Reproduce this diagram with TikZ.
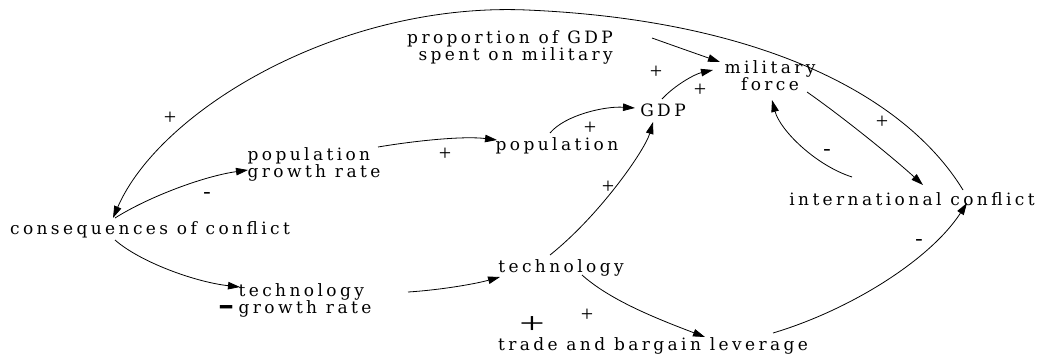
\documentclass[tikz,border=0pt]{standalone}
\usepackage{fontspec}
\setmainfont{Liberation Serif}
\newfontfamily\dfont[LetterSpace=20]{DejaVu Serif}
\usetikzlibrary{arrows.meta,calc}
\begin{document}
\begin{tikzpicture}[x=1pt,y=-1pt,
  lbl/.style={font=\dfont\fontsize{17}{17}\selectfont, inner sep=0pt},
  sgn/.style={font=\fontsize{22}{22}\selectfont, inner sep=0pt},
  link/.style={-{Triangle[length=12pt,width=7.5pt]}, line width=0.8pt},
]
\useasboundingbox[fill=white] (0,0) rectangle (1037,354);

% variables
\node[lbl, align=right] (prop) at (510,47) {proportion of GDP\\spent on military};
\node[lbl, align=center] (mil) at (770,76) {military\\force};
\node[lbl] (gdp) at (663,110) {GDP};
\node[lbl] (pop) at (557,146) {population};
\node[lbl, align=left] (pgr) at (314,164) {population\\growth rate};
\node[lbl] (cons) at (150,230) {consequences of conflict};
\node[lbl, align=left] (tgr) at (305,300) {technology\\growth rate};
\node[lbl] (tech) at (561,268) {technology};
\node[lbl] (trade) at (653,346) {trade and bargain leverage};
\node[lbl] (intl) at (912,199) {international conflict};

% connectors
\draw[link] ($(intl)+(51,-9)$) .. controls (905,95) and (760,20) .. (527,10)
            .. controls (340,2) and (160,110) .. ($(cons)+(-37,-12)$);
\draw[link] ($(prop)+(142,-9)$) .. controls (680,48) and (700,55) .. ($(mil)+(-50,-14)$);
\draw[link] ($(gdp)+(-1,-11)$) .. controls (675,85) and (695,74) .. ($(mil)+(-57,-6)$);
\draw[link] ($(pop)+(-7,-13)$) .. controls (565,115) and (605,106) .. ($(gdp)+(-28,-2)$);
\draw[link] ($(pgr)+(64,-17)$) .. controls (420,140) and (465,136) .. ($(pop)+(-60,-6)$);
\draw[link] ($(cons)+(-35,-12)$) .. controls (150,196) and (205,176) .. ($(pgr)+(-66,6)$);
\draw[link] ($(cons)+(-35,10)$) .. controls (140,262) and (195,282) .. ($(tgr)+(-65,-13)$);
\draw[link] ($(tgr)+(103,-8)$) .. controls (440,290) and (475,284) .. ($(tech)+(-61,9)$);
\draw[link] ($(tech)+(-11,-13)$) .. controls (600,215) and (645,150) .. ($(gdp)+(-10,12)$);
\draw[link] ($(tech)+(21,7)$) .. controls (610,300) and (655,318) .. ($(trade)+(52,-9)$);
\draw[link] ($(trade)+(120,-13)$) .. controls (850,310) and (930,260) .. ($(intl)+(55,4)$);
\draw[link] ($(mil)+(37,16)$) .. controls (840,115) and (890,155) .. ($(intl)+(11,-14)$);
\draw[link] ($(intl)+(-60,-22)$) .. controls (815,165) and (780,130) .. ($(mil)+(2,24)$);

% polarity signs
\node[sgn] (p1) at (170,118) {+};
\node[sgn] (p2) at (656,72) {+};
\node[sgn] (p3) at (700,90) {+};
\node[sgn] (p4) at (590,128) {+};
\node[sgn] (p5) at (445,154) {+};
\node[sgn] (m1) at (207,195) {-};
\node[sgn] (m2) at (227,312) {\scalebox{1.1}[2.2]{\textbf{--}}};
\node[sgn] (p6) at (608,187) {+};
\node[sgn] (p7) at (587,315) {+};
\node[sgn] (p8) at (532,325) {\fontsize{30}{30}\selectfont\scalebox{1.5}[1]{+}};
\node[sgn] (m3) at (919,242) {-};
\node[sgn] (p9) at (882,122) {+};
\node[sgn] (m4) at (827,152) {-};
\end{tikzpicture}
\end{document}
